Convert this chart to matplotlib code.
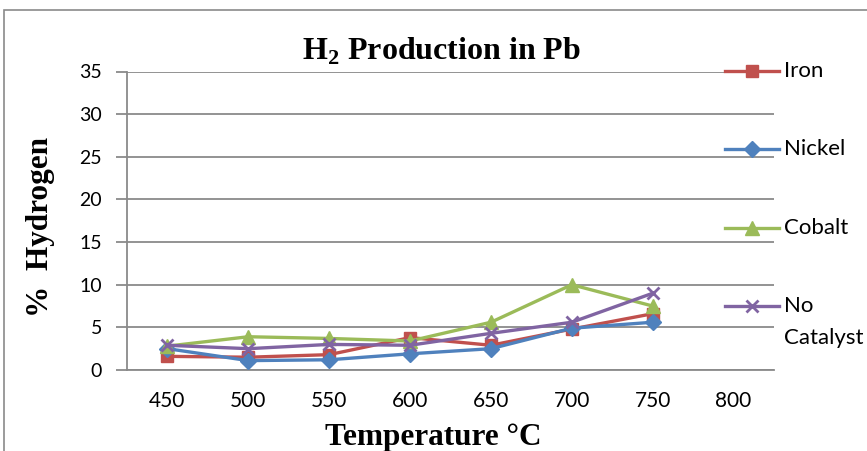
import matplotlib
matplotlib.use("AGG")
import matplotlib.pyplot as plt
from matplotlib.lines import Line2D
from matplotlib.patches import Rectangle
import numpy as np

# data
temps = ['450', '500', '550', '600', '650', '700', '750', '800']
iron = [1.6, 1.5, 1.8, 3.8, 2.9, 4.8, 6.6]
nickel = [2.5, 1.1, 1.2, 1.9, 2.5, 4.9, 5.6]
cobalt = [2.8, 3.9, 3.7, 3.4, 5.6, 10.0, 7.5]
no_catalyst = [2.9, 2.5, 3.0, 2.9, 4.3, 5.6, 9.0]
series_names = ['Iron', 'Nickel', 'Cobalt', 'No\nCatalyst']
y_ticks = [0, 5, 10, 15, 20, 25, 30, 35]

colors = ['#C0504D', '#4F81BD', '#9BBB59', '#8064A2']
markers = ['s', 'D', '^', 'x']
msizes = [9, 8.5, 9.5, 9]

plt.rcParams['mathtext.fontset'] = 'custom'
plt.rcParams['mathtext.rm'] = 'Liberation Serif:bold'
plt.rcParams['mathtext.bf'] = 'Liberation Serif:bold'

W, H = 867, 451
fig = plt.figure(figsize=(W / 100, H / 100), dpi=100)
fig.patch.set_facecolor('white')

def fx(px):
    return px / W

def fy(py):
    return 1 - py / H

# outer chart border (only left/top visible in the crop)
fig.add_artist(Rectangle((fx(4), fy(H + 20)), 2, fy(10) - fy(H + 20),
                         transform=fig.transFigure, fill=False,
                         edgecolor='#8a8a8a', linewidth=1.2))

ax = fig.add_axes([fx(127), fy(370), fx(774) - fx(127), fy(71.5) - fy(370)])
x = np.arange(len(temps))
all_series = [iron, nickel, cobalt, no_catalyst]
for vals, c, m, ms in zip(all_series, colors, markers, msizes):
    xx = x[:len(vals)]
    if m == 'x':
        ax.plot(xx, vals, color=c, lw=2.4, marker=m, ms=ms, mew=2, zorder=3)
    else:
        ax.plot(xx, vals, color=c, lw=2.4, marker=m, ms=ms, mec=c, mfc=c, zorder=3)

ax.set_xlim(-0.5, len(temps) - 0.5)
ax.set_ylim(0, 35)
ax.set_yticks(y_ticks)
ax.set_xticks(x)
ax.set_xticklabels(temps, fontfamily='Lato', fontsize=15)
ax.set_yticklabels([str(v) for v in y_ticks], fontfamily='Lato', fontsize=14)
ax.yaxis.grid(True, color='#8a8a8a', lw=1.3)
ax.set_axisbelow(True)
for s in ['top', 'right']:
    ax.spines[s].set_visible(False)
ax.spines['left'].set_color('#8a8a8a')
ax.spines['bottom'].set_color('#8a8a8a')
ax.spines['left'].set_linewidth(1.3)
ax.spines['bottom'].set_linewidth(1.3)
ax.tick_params(axis='y', length=8, width=1.3, color='#8a8a8a', pad=10)
ax.tick_params(axis='x', length=0, pad=15)

fig.text(fx(441), fy(60), r'H$_\mathrm{2}$ Production in Pb', ha='center', va='baseline',
         fontfamily='Liberation Serif', fontweight='bold', fontsize=23)
fig.text(fx(433), fy(445), 'Temperature \u00b0C', ha='center', va='baseline',
         fontfamily='Liberation Serif', fontweight='bold', fontsize=22.5)
fig.text(fx(41), fy(227), '%  Hydrogen', ha='center', va='center', rotation=90,
         fontfamily='Liberation Serif', fontweight='bold', fontsize=22.5)

# legend on the right, laid over the plot area like the original
leg_y = [71, 149, 228, 306]
for name, c, m, ms, ly in zip(series_names, colors, markers, msizes, leg_y):
    kw = dict(mew=2) if m == 'x' else dict(mec=c, mfc=c)
    fig.add_artist(Line2D([fx(725), fx(779)], [fy(ly), fy(ly)], transform=fig.transFigure,
                          color=c, lw=2.4))
    fig.add_artist(Line2D([fx(752)], [fy(ly)], transform=fig.transFigure,
                          color=c, marker=m, ms=ms, **kw))
    lines = name.split('\n')
    for i, t in enumerate(lines):
        fig.text(fx(784), fy(ly + 32 * i), t, ha='left', va='center',
                 fontfamily='Lato', fontsize=16)

plt.savefig('out.png', dpi=100)
